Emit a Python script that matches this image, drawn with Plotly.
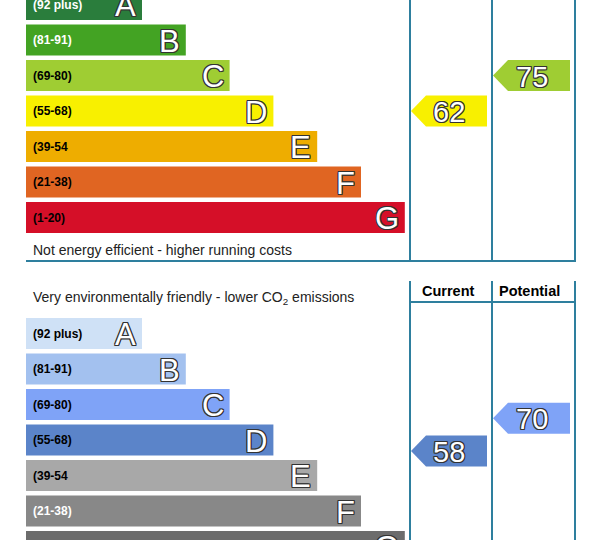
import plotly.graph_objects as go

# rating bands, shared by both charts
bands = ["A", "B", "C", "D", "E", "F", "G"]
band_ranges = ["(92 plus)", "(81-91)", "(69-80)", "(55-68)", "(39-54", "(21-38)", "(1-20)"]
band_low = [92, 81, 69, 55, 39, 21, 1]

energy_colors = ["#2a7d3c", "#43a323", "#9fcd33", "#f8f000", "#eead00", "#e06522", "#d50f28"]
energy_label_colors = ["white", "white", "black", "black", "black", "black", "black"]
co2_colors = ["#cfe1f6", "#a3c1ef", "#7fa3f7", "#5b84c9", "#a8a8a8", "#888888", "#6c6c6c"]
co2_label_colors = ["black", "black", "black", "black", "black", "white", "white"]

energy_current = 62
energy_potential = 75
co2_current = 58
co2_potential = 70

# layout, in page pixels
W, H = 592, 540
PITCH = 35.5
BAR_H = 31
LEFT = 26
LEN0 = 116
STEP = 43.8
CUR_L, POT_L, RIGHT = 410, 492, 575
LINE = "#2e7f9e"
FONT = "Liberation Sans, Arial, sans-serif"
OUTLINE = "1px 1px 0 #333, -1px -1px 0 #333, 1px -1px 0 #333, -1px 1px 0 #333, 0 1px 0 #333, 0 -1px 0 #333, 1px 0 0 #333, -1px 0 0 #333"

fig = go.Figure()
annotations = []
shapes = []


def band_of(v):
    for i, lo in enumerate(band_low):
        if v >= lo:
            return i
    return len(band_low) - 1


def in_view(y):
    # annotations anchored off the axis range are dropped, so pin them to the edge and shift
    yy = min(max(y, 1), H - 1)
    return yy, yy - y


def add_chart(a_center, colors, label_colors, current, potential):
    centers = [a_center + PITCH * i for i in range(len(bands))]
    lengths = [LEN0 + STEP * i for i in range(len(bands))]
    fig.add_trace(go.Bar(
        orientation="h", y=centers, x=lengths, base=LEFT, width=BAR_H,
        marker=dict(color=colors, line=dict(width=0)),
        hoverinfo="skip", showlegend=False))
    for i in range(len(bands)):
        ly, lshift = in_view(centers[i])
        annotations.append(dict(
            x=LEFT + 5, y=ly, yshift=lshift, text="<b>%s</b>" % band_ranges[i],
            xanchor="left", yanchor="middle", showarrow=False,
            font=dict(family=FONT, size=12, color=label_colors[i])))
        ly, lshift = in_view(centers[i] + 1)
        annotations.append(dict(
            x=LEFT + lengths[i] - 4, y=ly, yshift=lshift, text=bands[i],
            xanchor="right", yanchor="middle", showarrow=False,
            font=dict(family=FONT, size=31, color="white", shadow=OUTLINE)))
    for v, col_l, col_r in [(current, CUR_L, POT_L), (potential, POT_L, RIGHT)]:
        yc = a_center + (101 - v) * PITCH / 13
        h = BAR_H / 2
        xs = [col_l + 1, col_l + 16, col_r - 5, col_r - 5, col_l + 16, col_l + 1]
        ys = [yc, yc - h, yc - h, yc + h, yc + h, yc]
        fig.add_trace(go.Scatter(
            x=xs, y=ys, mode="lines", fill="toself", line=dict(width=0),
            fillcolor=colors[band_of(v)], hoverinfo="skip", showlegend=False))
        annotations.append(dict(
            x=(col_l + col_r) / 2 - 2, y=yc + 1, text=str(v),
            xanchor="center", yanchor="middle", showarrow=False,
            font=dict(family=FONT, size=29, color="white", shadow=OUTLINE)))


add_chart(4.5, energy_colors, energy_label_colors, energy_current, energy_potential)
add_chart(4.5 + 329, co2_colors, co2_label_colors, co2_current, co2_potential)

annotations.append(dict(
    x=LEFT + 5, y=250, text="Not energy efficient - higher running costs",
    xanchor="left", yanchor="middle", showarrow=False,
    font=dict(family=FONT, size=14, color="#222")))
annotations.append(dict(
    x=LEFT + 5, y=298, text="Very environmentally friendly - lower CO<sub>2</sub> emissions",
    xanchor="left", yanchor="middle", showarrow=False,
    font=dict(family=FONT, size=14, color="#222")))
annotations.append(dict(
    x=(CUR_L + POT_L) / 2 - 3, y=291, text="<b>Current</b>",
    xanchor="center", yanchor="middle", showarrow=False,
    font=dict(family=FONT, size=14.5, color="black")))
annotations.append(dict(
    x=(POT_L + RIGHT) / 2 - 4, y=291, text="<b>Potential</b>",
    xanchor="center", yanchor="middle", showarrow=False,
    font=dict(family=FONT, size=14.5, color="black")))

# frames
for x in [CUR_L, POT_L, RIGHT]:
    shapes.append(dict(type="line", x0=x, x1=x, y0=-5, y1=261, line=dict(color=LINE, width=2)))
    shapes.append(dict(type="line", x0=x, x1=x, y0=281, y1=545, line=dict(color=LINE, width=2)))
shapes.append(dict(type="line", x0=LEFT, x1=RIGHT + 1, y0=261, y1=261, line=dict(color=LINE, width=2)))
shapes.append(dict(type="line", x0=CUR_L, x1=RIGHT, y0=302, y1=302, line=dict(color=LINE, width=2)))

fig.update_layout(
    width=W, height=H, margin=dict(l=0, r=0, t=0, b=0),
    paper_bgcolor="white", plot_bgcolor="white",
    xaxis=dict(range=[0, W], visible=False, fixedrange=True),
    yaxis=dict(range=[H, 0], visible=False, fixedrange=True),
    annotations=annotations, shapes=shapes, barmode="overlay")

# drop the browser's default body margin so the page fills the window
fig.write_html("out.html", config={"displayModeBar": False},
               post_script="document.body.style.margin='0';")
